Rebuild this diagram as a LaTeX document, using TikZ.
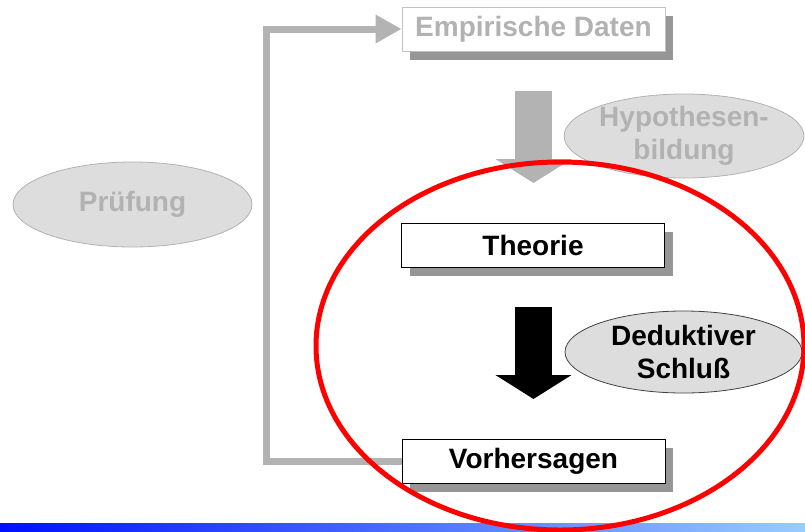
\documentclass[tikz,border=0pt]{standalone}
\usepackage{fontspec}
\setmainfont{Liberation Sans}
\usetikzlibrary{arrows.meta,shapes.geometric,shadows}
\definecolor{lightgraytext}{HTML}{B2B2B2}
\definecolor{linegray}{HTML}{B3B3B3}
\definecolor{shadowgray}{HTML}{969696}
\definecolor{ellipsefill}{HTML}{DDDDDD}
\definecolor{barleft}{HTML}{0010FF}
\definecolor{barright}{HTML}{99CCFF}
\tikzset{
  label font/.style={font=\bfseries\fontsize{28}{33}\selectfont},
  stepbox/.style={rectangle, draw=black, line width=0.8pt, fill=white,
    minimum width=263pt, minimum height=44pt, inner sep=0pt, label font,
    general shadow={fill=shadowgray, shadow xshift=8pt, shadow yshift=-9pt}},
  fadedbox/.style={stepbox, draw=lightgraytext!80, text=lightgraytext},
  bubble/.style={ellipse, fill=ellipsefill, draw=black!75, line width=0.8pt,
    inner sep=0pt, align=center, label font},
  fadedbubble/.style={bubble, draw=lightgraytext, text=lightgraytext},
  blockarrow/.style={line width=37pt, line cap=butt,
    -{Triangle[length=24pt,width=75pt]}},
  loopline/.style={draw=linegray, line width=7pt, line join=miter,
    -{Triangle[length=26pt,width=27pt]}}
}
\begin{document}
\begin{tikzpicture}[x=1pt,y=-1pt]
\useasboundingbox (0,0) rectangle (805,531);

% boxes
\node[fadedbox] (emp) at (533.5,29) {Empirische Daten};
\node[stepbox] (theo) at (533,245) {Theorie};
\node[stepbox] (vor) at (533.5,461) {Vorhersagen};

% block arrows between the stages
\coordinate (g1) at (533.5,91);
\coordinate (g2) at (533.5,183);
\draw[blockarrow, draw=linegray] (g1) -- (g2);
\coordinate (b1) at (533.5,307);
\coordinate (b2) at (533.5,399);
\draw[blockarrow, draw=black] (b1) -- (b2);

% ellipses
\node[fadedbubble, minimum width=236pt, minimum height=84pt] (hyp) at (684,136) {Hypothesen-\\bildung};
\node[bubble, minimum width=237pt, minimum height=82pt] (ded) at (683.5,352) {Deduktiver\\Schluß};
\node[fadedbubble, minimum width=239pt, minimum height=85pt] (pru) at (132.5,204.5) {Prüfung};

% feedback loop
\draw[loopline] (vor.west) -- ++(-135,0) |- (emp.west);

% gradient bar
\shade[left color=barleft, right color=barright] (0,523) rectangle (805,531);

% highlight ring
\draw[red, line width=5pt] (560,346) ellipse [x radius=244, y radius=184];
\end{tikzpicture}
\end{document}
